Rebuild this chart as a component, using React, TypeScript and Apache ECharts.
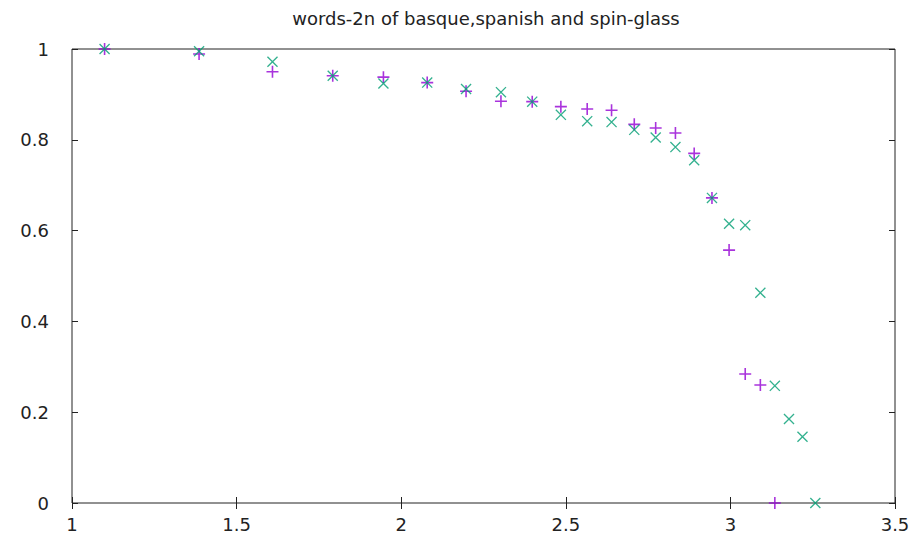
import React, { useEffect, useRef } from "react";
import * as echarts from "echarts";

const TITLE = "words-2n of basque,spanish and spin-glass";

// x values (ln of word length)
const xValues = [
  1.099, 1.386, 1.609, 1.792, 1.946, 2.079, 2.197, 2.303, 2.398, 2.485, 2.565, 2.639,
  2.708, 2.773, 2.833, 2.89, 2.944, 2.996, 3.045, 3.091, 3.135, 3.178, 3.219, 3.258,
];

// purple "+" series
const plusValues = [
  1.0, 0.989, 0.95, 0.941, 0.938, 0.926, 0.907, 0.885, 0.884, 0.873, 0.868, 0.865,
  0.834, 0.826, 0.815, 0.77, 0.672, 0.557, 0.284, 0.26, 0.0,
];

// green "x" series
const crossValues = [
  1.0, 0.995, 0.972, 0.941, 0.924, 0.926, 0.912, 0.905, 0.884, 0.855, 0.841, 0.839,
  0.822, 0.805, 0.784, 0.755, 0.672, 0.615, 0.612, 0.463, 0.258, 0.185, 0.146, 0.0,
];

const xTicks = [1, 1.5, 2, 2.5, 3, 3.5];
const yTicks = [0, 0.2, 0.4, 0.6, 0.8, 1];

const PLUS_PATH = "path://M0,5.2H12V6.8H0Z M5.2,0H6.8V12H5.2Z";
const CROSS_PATH =
  "path://M0,0.85L0.85,0L10,9.15L9.15,10Z M9.15,0L10,0.85L0.85,10L0,9.15Z";

export default function App() {
  const ref = useRef<HTMLDivElement>(null);

  useEffect(() => {
    if (!ref.current) return;
    const chart = echarts.init(ref.current, undefined, { renderer: "svg" });
    const font = "DejaVu Sans";
    const plusData = plusValues.map((v, i) => [xValues[i], v]);
    const crossData = crossValues.map((v, i) => [xValues[i], v]);

    const xCommon = {
      type: "value" as const,
      min: xTicks[0],
      max: xTicks[xTicks.length - 1],
      interval: 0.5,
      splitLine: { show: false },
      axisLine: { show: false },
      axisTick: { show: true, inside: true, length: 6, lineStyle: { color: "#222", width: 1 } },
    };
    const yCommon = {
      type: "value" as const,
      min: yTicks[0],
      max: yTicks[yTicks.length - 1],
      interval: 0.2,
      splitLine: { show: false },
      axisLine: { show: false },
      axisTick: { show: true, inside: true, length: 6, lineStyle: { color: "#222", width: 1 } },
    };

    chart.setOption({
      animation: false,
      backgroundColor: "#ffffff",
      title: {
        text: TITLE,
        left: 481,
        textAlign: "center",
        top: 4,
        textStyle: { fontFamily: font, fontSize: 18, fontWeight: "normal", color: "#222" },
      },
      grid: {
        left: 72,
        right: 24,
        top: 49,
        bottom: 35,
        show: true,
        borderColor: "#222",
        borderWidth: 1,
        backgroundColor: "transparent",
      },
      xAxis: [
        {
          ...xCommon,
          position: "bottom",
          axisLabel: {
            show: true,
            margin: 12,
            fontFamily: font,
            fontSize: 18,
            color: "#222",
            formatter: (v: number) => String(v),
          },
        },
        { ...xCommon, position: "top", axisLabel: { show: false } },
      ],
      yAxis: [
        {
          ...yCommon,
          position: "left",
          axisLabel: {
            show: true,
            margin: 23,
            fontFamily: font,
            fontSize: 18,
            color: "#222",
            formatter: (v: number) => String(Math.round(v * 10) / 10),
          },
        },
        { ...yCommon, position: "right", axisLabel: { show: false } },
      ],
      series: [
        {
          name: "basque",
          type: "scatter",
          xAxisIndex: 0,
          yAxisIndex: 0,
          data: plusData,
          symbol: PLUS_PATH,
          symbolSize: 12,
          itemStyle: { color: "#9400d3" },
          z: 3,
        },
        {
          name: "spanish",
          type: "scatter",
          xAxisIndex: 0,
          yAxisIndex: 0,
          data: crossData,
          symbol: CROSS_PATH,
          symbolSize: 11,
          itemStyle: { color: "#009e73" },
          z: 4,
        },
      ],
    });
    return () => chart.dispose();
  }, []);

  return (
    <div
      ref={ref}
      style={{ position: "absolute", left: 0, top: 0, width: 919, height: 538 }}
    />
  );
}
